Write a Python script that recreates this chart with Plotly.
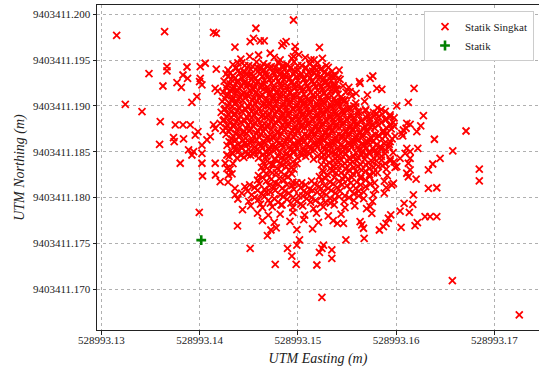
import plotly.graph_objects as go

# Reference origin of the local offsets (metres); offsets below are in millimetres.
EAST_ORIGIN = 528993.13
NORTH_ORIGIN = 9403411.17

# "Statik Singkat" fixes, (easting offset mm, northing offset mm)
singkat_outer_mm = [
    (1.56, 27.71), (6.44, 28.10), (11.42, 28.04), (11.70, 27.93), (13.60, 26.43),
    (4.85, 23.52), (6.68, 24.29), (6.68, 23.82), (8.72, 24.25), (6.27, 22.18),
    (7.70, 22.54), (8.14, 22.04), (8.31, 23.38), (8.78, 23.02), (10.07, 24.29),
    (10.58, 24.66), (10.07, 23.02), (10.24, 22.29), (10.00, 22.65), (11.70, 24.03),
    (11.59, 21.93), (11.83, 21.63), (9.73, 21.01), (9.22, 20.40), (2.44, 20.18),
    (4.14, 19.38), (6.00, 18.29), (7.53, 17.93), (8.31, 17.93), (9.05, 17.93),
    (5.93, 15.82), (7.35, 16.54), (7.42, 16.10), (8.37, 16.40), (9.56, 16.83),
    (9.83, 17.19), (8.88, 15.20), (9.22, 14.65), (9.39, 15.01), (8.03, 13.75),
    (10.24, 14.84), (10.24, 13.75), (10.30, 12.36), (11.59, 13.75), (11.62, 12.47),
    (12.10, 11.74), (10.24, 15.74), (10.75, 16.29), (11.09, 16.65), (11.59, 17.57),
    (11.42, 17.93), (12.78, 14.65), (12.61, 13.75), (12.78, 13.20), (12.95, 12.47),
    (13.63, 10.29), (9.97, 8.40), (13.86, 6.91), (13.90, 9.85), (14.37, 8.68),
    (15.15, 4.47), (17.70, 2.73), (16.91, 5.85), (17.26, 6.47), (19.83, 2.73),
    (19.39, 3.63), (18.95, 4.47), (19.90, 4.83), (20.17, 5.38), (21.94, 2.65),
    (22.45, -0.87), (22.45, 4.47), (22.20, 4.04), (22.61, 4.83), (35.73, 0.94),
    (24.89, 5.38), (26.75, 5.56), (23.46, 4.29), (23.46, 3.38), (24.03, 7.20),
    (24.64, 7.20), (26.34, 7.38), (26.68, 6.66), (26.51, 7.02), (28.30, 6.47),
    (28.71, 6.83), (28.98, 7.20), (30.51, 6.76), (31.93, 6.94), (32.17, 7.27),
    (32.95, 7.92), (33.46, 7.92), (34.14, 7.92), (30.41, 8.54), (30.82, 9.38),
    (31.70, 9.27), (31.35, 8.40), (29.46, 8.11), (29.22, 7.75), (27.36, 9.01),
    (27.53, 8.29), (42.54, -2.80), (19.56, 29.38), (18.54, 26.84), (18.81, 27.01),
    (22.20, 26.40), (19.73, 26.47), (19.56, 25.38), (31.83, 21.93), (31.25, 20.40),
    (30.07, 20.00), (32.78, 18.94), (37.12, 17.27), (33.90, 16.37), (35.77, 15.09),
    (38.47, 13.12), (38.47, 11.82), (34.48, 14.29), (33.73, 13.67), (33.29, 13.02),
    (32.11, 17.19), (32.51, 17.82), (31.09, 18.11), (30.58, 17.02), (30.74, 17.38),
    (29.39, 19.02), (26.27, 22.65), (27.36, 23.02), (28.04, 21.93), (28.55, 21.82),
    (27.08, 21.20), (25.19, 22.04), (27.63, 23.27), (26.34, 22.47), (25.32, 21.56),
    (25.93, 21.38), (24.74, 20.65), (24.13, 20.40), (23.56, 23.27), (23.80, 22.29),
    (23.80, 21.74), (15.73, 28.48), (15.49, 27.38), (15.15, 27.01), (16.17, 27.09),
    (16.58, 27.09), (18.38, 26.58), (19.73, 25.92), (16.00, 25.56), (17.19, 25.75),
    (18.20, 25.02), (18.48, 24.39), (19.39, 25.20), (20.75, 25.27), (21.33, 25.02),
    (21.66, 25.02), (21.66, 24.11), (32.04, 12.03), (33.29, 11.02), (34.14, 11.08),
    (31.76, 10.29), (31.43, 18.00), (31.02, 17.57), (30.68, 16.73), (30.41, 14.29),
    (30.07, 13.38), (31.43, 14.29), (31.25, 13.75), (31.43, 13.02), (31.09, 12.66),
    (31.25, 12.28), (32.21, 15.38), (31.09, 15.38), (31.43, 15.01), (30.92, 14.84),
    (29.39, 17.93), (29.73, 11.56), (29.56, 11.38),
    (14.2, 25.1), (15.1, 25.4), (17.6, 25.3), (20.1, 25.6), (22.5, 25.2), (13.9, 24.7),
]

singkat_core_mm = [
    # n ~ 24.6
    (13.4, 24.5), (14.3, 24.7), (15.0, 24.4), (15.8, 24.8), (16.5, 24.6), (17.3, 24.3),
    (18.0, 24.7), (18.9, 24.5), (19.6, 24.8), (20.4, 24.4), (21.2, 24.6), (22.0, 24.7),
    (22.9, 24.4),
    # n ~ 24.0
    (12.9, 23.9), (13.7, 24.1), (14.5, 23.8), (15.2, 24.0), (15.9, 24.2), (16.6, 23.9),
    (17.2, 24.1), (17.9, 23.8), (18.6, 24.0), (19.3, 24.2), (20.0, 23.9), (20.8, 24.1),
    (21.5, 23.8), (22.3, 24.0), (23.1, 24.2), (24.2, 23.9),
    # n ~ 23.4
    (12.7, 23.5), (13.4, 23.3), (14.1, 23.6), (14.8, 23.4), (15.4, 23.2), (16.1, 23.5),
    (16.8, 23.3), (17.5, 23.6), (18.2, 23.4), (18.8, 23.2), (19.5, 23.5), (20.2, 23.3),
    (20.9, 23.4), (21.6, 23.6), (22.3, 23.2), (23.0, 23.5), (23.8, 23.3),
    # n ~ 22.8
    (12.5, 22.7), (13.2, 22.9), (13.9, 22.8), (14.6, 22.6), (15.3, 22.9), (15.9, 22.7),
    (16.6, 22.8), (17.3, 23.0), (18.0, 22.7), (18.6, 22.9), (19.3, 22.6), (20.0, 22.8),
    (20.7, 23.0), (21.4, 22.7), (22.1, 22.9), (22.7, 22.6), (23.4, 22.8), (24.3, 22.9),
    # n ~ 22.2
    (12.8, 22.3), (13.5, 22.1), (14.2, 22.2), (14.9, 22.4), (15.6, 22.1), (16.3, 22.3),
    (16.9, 22.0), (17.6, 22.2), (18.3, 22.4), (19.0, 22.1), (19.7, 22.3), (20.3, 22.0),
    (21.0, 22.2), (21.7, 22.4), (22.4, 22.1), (23.1, 22.3), (23.7, 22.0), (24.6, 22.2),
    # n ~ 21.6
    (12.4, 21.5), (13.1, 21.7), (13.8, 21.6), (14.5, 21.4), (15.1, 21.7), (15.8, 21.5),
    (16.5, 21.8), (17.2, 21.6), (17.9, 21.4), (18.5, 21.7), (19.2, 21.5), (19.9, 21.6),
    (20.6, 21.8), (21.3, 21.5), (22.0, 21.7), (22.6, 21.4), (23.3, 21.6), (24.0, 21.8),
    (24.9, 21.5),
    # n ~ 21.0
    (12.7, 21.1), (13.4, 20.9), (14.1, 21.0), (14.8, 21.2), (15.5, 20.9), (16.2, 21.1),
    (16.8, 20.8), (17.5, 21.0), (18.2, 21.2), (18.9, 20.9), (19.6, 21.1), (20.3, 20.8),
    (20.9, 21.0), (21.6, 21.2), (22.3, 20.9), (23.0, 21.1), (23.7, 20.8), (24.4, 21.0),
    (25.5, 21.1),
    # n ~ 20.4
    (12.3, 20.5), (13.0, 20.3), (13.7, 20.4), (14.4, 20.6), (15.1, 20.3), (15.8, 20.5),
    (16.5, 20.2), (17.1, 20.4), (17.8, 20.6), (18.5, 20.3), (19.2, 20.5), (19.9, 20.2),
    (20.6, 20.4), (21.2, 20.6), (21.9, 20.3), (22.6, 20.5), (23.3, 20.2), (24.0, 20.4),
    (24.8, 20.6), (25.9, 20.3), (26.8, 20.5),
    # n ~ 19.8
    (12.6, 19.7), (13.3, 19.9), (14.0, 19.8), (14.7, 19.6), (15.4, 19.9), (16.1, 19.7),
    (16.8, 20.0), (17.5, 19.8), (18.1, 19.6), (18.8, 19.9), (19.5, 19.7), (20.2, 19.8),
    (20.9, 20.0), (21.6, 19.7), (22.2, 19.9), (22.9, 19.6), (23.6, 19.8), (24.3, 20.0),
    (25.1, 19.7), (25.9, 19.9), (26.9, 19.6), (28.1, 19.8),
    # n ~ 19.2
    (12.2, 19.3), (12.9, 19.1), (13.6, 19.2), (14.3, 19.4), (15.0, 19.1), (15.7, 19.3),
    (16.4, 19.0), (17.1, 19.2), (17.8, 19.4), (18.4, 19.1), (19.1, 19.3), (19.8, 19.0),
    (20.5, 19.2), (21.2, 19.4), (21.9, 19.1), (22.5, 19.3), (23.2, 19.0), (23.9, 19.2),
    (24.6, 19.4), (25.4, 19.1), (26.2, 19.3), (27.1, 19.0), (28.0, 19.2), (28.9, 19.4),
    # n ~ 18.6
    (12.5, 18.5), (13.2, 18.7), (13.9, 18.6), (14.6, 18.4), (15.3, 18.7), (16.0, 18.5),
    (16.7, 18.8), (17.4, 18.6), (18.1, 18.4), (18.7, 18.7), (19.4, 18.5), (20.1, 18.6),
    (20.8, 18.8), (21.5, 18.5), (22.2, 18.7), (22.9, 18.4), (23.6, 18.6), (24.3, 18.8),
    (25.0, 18.5), (25.7, 18.7), (26.5, 18.4), (27.3, 18.6), (28.2, 18.8), (29.0, 18.5),
    (29.8, 18.7),
    # n ~ 18.0
    (12.1, 18.1), (12.8, 17.9), (13.5, 18.0), (14.2, 18.2), (14.9, 17.9), (15.6, 18.1),
    (16.3, 17.8), (17.0, 18.0), (17.7, 18.2), (18.4, 17.9), (19.0, 18.1), (19.7, 17.8),
    (20.4, 18.0), (21.1, 18.2), (21.8, 17.9), (22.5, 18.1), (23.2, 17.8), (23.9, 18.0),
    (24.6, 18.2), (25.3, 17.9), (26.0, 18.1), (26.8, 17.8), (27.6, 18.0), (28.5, 18.2),
    (29.4, 17.9),
    # n ~ 17.4
    (12.4, 17.3), (13.1, 17.5), (13.8, 17.4), (14.5, 17.2), (15.2, 17.5), (15.9, 17.3),
    (16.6, 17.6), (17.3, 17.4), (18.0, 17.2), (18.7, 17.5), (19.4, 17.3), (20.0, 17.4),
    (20.7, 17.6), (21.4, 17.3), (22.1, 17.5), (22.8, 17.2), (23.5, 17.4), (24.2, 17.6),
    (24.9, 17.3), (25.6, 17.5), (26.3, 17.2), (27.0, 17.4), (27.8, 17.6), (28.7, 17.3),
    (29.5, 17.5),
    # n ~ 16.8
    (12.7, 16.9), (13.4, 16.7), (14.1, 16.8), (14.8, 17.0), (15.5, 16.7), (16.2, 16.9),
    (16.9, 16.6), (17.6, 16.8), (18.3, 17.0), (19.0, 16.7), (19.7, 16.9), (20.4, 16.6),
    (21.0, 16.8), (21.7, 17.0), (22.4, 16.7), (23.1, 16.9), (23.8, 16.6), (24.5, 16.8),
    (25.2, 17.0), (25.9, 16.7), (26.6, 16.9), (27.4, 16.6), (28.2, 16.8), (29.1, 17.0),
    (29.9, 16.7),
    # n ~ 16.2
    (13.0, 16.1), (13.7, 16.3), (14.4, 16.2), (15.1, 16.0), (15.8, 16.3), (16.5, 16.1),
    (17.2, 16.4), (17.9, 16.2), (18.6, 16.0), (19.3, 16.3), (20.0, 16.1), (20.7, 16.2),
    (21.4, 16.4), (22.0, 16.1), (22.7, 16.3), (23.4, 16.0), (24.1, 16.2), (24.8, 16.4),
    (25.5, 16.1), (26.2, 16.3), (26.9, 16.0), (27.7, 16.2), (28.6, 16.4), (29.4, 16.1),
    # n ~ 15.6
    (12.8, 15.7), (13.5, 15.5), (14.2, 15.6), (14.9, 15.8), (15.6, 15.5), (16.3, 15.7),
    (17.0, 15.4), (17.7, 15.6), (18.4, 15.8), (19.1, 15.5), (19.8, 15.7), (20.5, 15.4),
    (21.2, 15.6), (21.9, 15.8), (22.6, 15.5), (23.3, 15.7), (24.0, 15.4), (24.7, 15.6),
    (25.4, 15.8), (26.1, 15.5), (26.8, 15.7), (27.6, 15.4), (28.4, 15.6), (29.3, 15.8),
    # n ~ 15.0
    (13.3, 14.9), (14.0, 15.1), (14.7, 15.0), (15.4, 14.8), (16.1, 15.1), (16.8, 14.9),
    (17.5, 15.2), (18.2, 15.0), (18.9, 14.8), (19.6, 15.1), (20.3, 14.9), (21.0, 15.0),
    (21.7, 15.2), (22.4, 14.9), (23.1, 15.1), (23.8, 14.8), (24.5, 15.0), (25.2, 15.2),
    (25.9, 14.9), (26.6, 15.1), (27.3, 14.8), (28.1, 15.0), (28.9, 15.2), (29.7, 14.9),
    # n ~ 14.4
    (13.0, 14.5), (13.8, 14.3), (14.5, 14.4), (15.2, 14.6), (16.0, 14.3), (16.8, 14.5),
    (17.6, 14.2), (18.4, 14.4), (19.2, 14.6), (20.0, 14.3), (20.8, 14.5), (21.6, 14.2),
    (22.4, 14.4), (23.1, 14.6), (23.8, 14.3), (24.6, 14.5), (25.3, 14.2), (26.1, 14.4),
    (26.9, 14.6), (27.7, 14.3), (28.5, 14.5), (29.4, 14.2),
    # n ~ 13.8
    (13.4, 13.7), (16.5, 13.9), (17.3, 13.6), (18.2, 13.8), (19.0, 14.0), (19.9, 13.7),
    (22.4, 13.6), (23.2, 13.8), (24.0, 14.0), (24.8, 13.7), (25.6, 13.9), (26.4, 13.6),
    (27.2, 13.8), (28.0, 14.0), (28.9, 13.7), (29.8, 13.9),
    # n ~ 13.2
    (13.1, 13.1), (16.3, 13.3), (17.1, 13.0), (17.9, 13.2), (18.8, 13.4), (19.6, 13.1),
    (22.5, 13.0), (23.3, 13.2), (24.1, 13.4), (24.9, 13.1), (25.7, 13.3), (26.5, 13.0),
    (27.3, 13.2), (28.2, 13.4), (29.0, 13.1), (29.9, 13.3),
    # n ~ 12.5
    (13.3, 12.6), (16.0, 12.4), (16.9, 12.5), (17.8, 12.7), (18.7, 12.4), (19.4, 12.6),
    (22.2, 12.3), (23.0, 12.5), (23.9, 12.7), (24.8, 12.4), (25.6, 12.6), (26.4, 12.3),
    (27.3, 12.5), (28.1, 12.7), (29.1, 12.4),
    # n ~ 11.8
    (12.9, 11.7), (15.9, 11.9), (16.8, 11.8), (17.7, 11.6), (18.6, 11.9), (19.5, 11.7),
    (20.4, 11.6), (21.4, 11.8), (22.4, 11.9), (23.3, 11.7), (24.2, 11.8), (25.1, 12.0),
    (26.0, 11.7), (26.9, 11.9), (27.8, 11.6), (28.8, 11.8),
    # n ~ 11.1
    (13.6, 11.0), (14.6, 11.2), (15.6, 11.1), (16.6, 10.9), (17.5, 11.2), (18.4, 11.0),
    (19.4, 11.3), (20.3, 11.1), (21.2, 10.9), (22.2, 11.2), (23.1, 11.0), (24.0, 11.1),
    (25.0, 11.3), (25.9, 11.0), (26.9, 11.2), (27.9, 10.9), (29.0, 11.1),
    # n ~ 10.4
    (14.3, 10.5), (15.3, 10.3), (16.3, 10.4), (17.2, 10.6), (18.2, 10.3), (19.1, 10.5),
    (20.1, 10.2), (21.0, 10.4), (22.0, 10.6), (22.9, 10.3), (23.8, 10.5), (24.8, 10.2),
    (25.7, 10.4), (26.7, 10.6), (27.7, 10.3), (28.8, 10.5),
    # n ~ 9.7
    (15.0, 9.6), (16.0, 9.8), (17.0, 9.7), (18.0, 9.5), (18.9, 9.8), (19.9, 9.6),
    (20.9, 9.9), (21.8, 9.7), (22.8, 9.5), (23.7, 9.8), (24.7, 9.6), (25.7, 9.7),
    (26.7, 9.9), (27.6, 9.6),
    # n ~ 9.0
    (15.2, 9.1), (16.4, 8.9), (17.4, 9.0), (18.4, 9.2), (19.5, 8.9), (20.5, 9.1),
    (21.6, 8.8), (22.6, 9.0), (23.7, 9.2), (24.8, 8.9), (25.8, 9.1), (27.0, 8.8),
    # n ~ 8.2
    (15.9, 8.3), (17.0, 8.1), (18.2, 8.2), (19.5, 8.4), (20.7, 8.1), (21.9, 8.3),
    (23.1, 8.0), (24.4, 8.2),
    # n ~ 7.4
    (16.4, 7.5), (17.6, 7.3), (19.2, 7.4), (20.6, 7.6), (22.1, 7.3), (23.6, 7.5),
    # n ~ 6.6
    (17.8, 6.7), (19.9, 6.5), (21.5, 6.6),
]

# Fixes lying between the rows above in the densest part of the cloud
singkat_dense_mm = [
    # n ~ 24.3
    (13.7, 24.2), (14.6, 24.4), (15.4, 24.3), (16.2, 24.1), (16.9, 24.4), (17.7, 24.2),
    (18.5, 24.3), (19.2, 24.1), (20.0, 24.4), (20.8, 24.2), (21.6, 24.3), (22.4, 24.1),
    # n ~ 23.7
    (13.1, 23.6), (13.9, 23.8), (14.6, 23.7), (15.3, 23.5), (16.0, 23.8), (16.7, 23.6),
    (17.5, 23.7), (18.2, 23.9), (18.9, 23.6), (19.7, 23.8), (20.4, 23.5), (21.1, 23.7),
    (21.9, 23.9), (22.7, 23.6), (23.5, 23.8),
    # n ~ 23.1
    (12.9, 23.2), (13.6, 23.0), (14.3, 23.1), (15.0, 23.3), (15.7, 23.0), (16.4, 23.2),
    (17.1, 22.9), (17.8, 23.1), (18.5, 23.3), (19.2, 23.0), (19.9, 23.2), (20.6, 22.9),
    (21.3, 23.1), (22.0, 23.3), (22.7, 23.0), (23.4, 23.2), (24.1, 23.0),
    # n ~ 22.5
    (13.1, 22.4), (13.8, 22.6), (14.5, 22.5), (15.2, 22.3), (15.9, 22.6), (16.6, 22.4),
    (17.3, 22.5), (18.0, 22.7), (18.7, 22.4), (19.4, 22.6), (20.1, 22.3), (20.8, 22.5),
    (21.5, 22.7), (22.2, 22.4), (22.9, 22.6), (23.6, 22.3),
    # n ~ 21.9
    (12.7, 22.0), (13.4, 21.8), (14.1, 21.9), (14.8, 22.1), (15.5, 21.8), (16.2, 22.0),
    (16.9, 21.7), (17.6, 21.9), (18.3, 22.1), (19.0, 21.8), (19.7, 22.0), (20.4, 21.7),
    (21.1, 21.9), (21.8, 22.1), (22.5, 21.8), (23.2, 22.0), (23.9, 21.9),
    # n ~ 21.3
    (12.9, 21.2), (13.6, 21.4), (14.3, 21.3), (15.0, 21.1), (15.7, 21.4), (16.4, 21.2),
    (17.1, 21.3), (17.8, 21.5), (18.5, 21.2), (19.2, 21.4), (19.9, 21.1), (20.6, 21.3),
    (21.3, 21.5), (22.0, 21.2), (22.7, 21.4), (23.4, 21.1), (24.1, 21.3),
    # n ~ 20.7
    (12.6, 20.8), (13.3, 20.6), (14.0, 20.7), (14.7, 20.9), (15.4, 20.6), (16.1, 20.8),
    (16.8, 20.5), (17.5, 20.7), (18.2, 20.9), (18.9, 20.6), (19.6, 20.8), (20.3, 20.5),
    (21.0, 20.7), (21.7, 20.9), (22.4, 20.6), (23.1, 20.8), (23.8, 20.5), (24.5, 20.7),
    # n ~ 20.1
    (12.9, 20.0), (13.6, 20.2), (14.3, 20.1), (15.0, 19.9), (15.7, 20.2), (16.4, 20.0),
    (17.1, 20.1), (17.8, 20.3), (18.5, 20.0), (19.2, 20.2), (19.9, 19.9), (20.6, 20.1),
    (21.3, 20.3), (22.0, 20.0), (22.7, 20.2), (23.4, 19.9), (24.1, 20.1), (24.9, 20.3),
    (25.7, 20.0),
    # n ~ 19.5
    (12.5, 19.6), (13.2, 19.4), (13.9, 19.5), (14.6, 19.7), (15.3, 19.4), (16.0, 19.6),
    (16.7, 19.3), (17.4, 19.5), (18.1, 19.7), (18.8, 19.4), (19.5, 19.6), (20.2, 19.3),
    (20.9, 19.5), (21.6, 19.7), (22.3, 19.4), (23.0, 19.6), (23.7, 19.3), (24.5, 19.5),
    (25.3, 19.7), (26.1, 19.4), (26.9, 19.5), (27.7, 19.3), (28.5, 19.6),
    # n ~ 18.9
    (12.8, 18.8), (13.5, 19.0), (14.2, 18.9), (14.9, 18.7), (15.6, 19.0), (16.3, 18.8),
    (17.0, 18.9), (17.7, 19.1), (18.4, 18.8), (19.1, 19.0), (19.8, 18.7), (20.5, 18.9),
    (21.2, 19.1), (21.9, 18.8), (22.6, 19.0), (23.3, 18.7), (24.0, 18.9), (24.7, 19.1),
    (25.4, 18.8), (26.2, 19.0), (27.0, 18.7), (27.8, 18.9), (28.6, 19.1), (29.4, 18.8),
    # n ~ 18.3
    (12.4, 18.4), (13.1, 18.2), (13.8, 18.3), (14.5, 18.5), (15.2, 18.2), (15.9, 18.4),
    (16.6, 18.1), (17.3, 18.3), (18.0, 18.5), (18.7, 18.2), (19.4, 18.4), (20.1, 18.1),
    (20.8, 18.3), (21.5, 18.5), (22.2, 18.2), (22.9, 18.4), (23.6, 18.1), (24.3, 18.3),
    (25.0, 18.5), (25.7, 18.2), (26.5, 18.4), (27.3, 18.1), (28.1, 18.3), (28.9, 18.5),
    (29.7, 18.2),
    # n ~ 17.7
    (12.7, 17.6), (13.4, 17.8), (14.1, 17.7), (14.8, 17.5), (15.5, 17.8), (16.2, 17.6),
    (16.9, 17.7), (17.6, 17.9), (18.3, 17.6), (19.0, 17.8), (19.7, 17.5), (20.4, 17.7),
    (21.1, 17.9), (21.8, 17.6), (22.5, 17.8), (23.2, 17.5), (23.9, 17.7), (24.6, 17.9),
    (25.3, 17.6), (26.0, 17.8), (26.7, 17.5), (27.4, 17.7), (28.2, 17.9), (29.0, 17.6),
    (29.8, 17.8),
    # n ~ 17.1
    (13.0, 17.2), (13.7, 17.0), (14.4, 17.1), (15.1, 17.3), (15.8, 17.0), (16.5, 17.2),
    (17.2, 16.9), (17.9, 17.1), (18.6, 17.3), (19.3, 17.0), (20.0, 17.2), (20.7, 16.9),
    (21.4, 17.1), (22.1, 17.3), (22.8, 17.0), (23.5, 17.2), (24.2, 16.9), (24.9, 17.1),
    (25.6, 17.3), (26.3, 17.0), (27.1, 17.2), (27.9, 16.9), (28.7, 17.1),
    # n ~ 16.5
    (13.3, 16.4), (14.0, 16.6), (14.7, 16.5), (15.4, 16.3), (16.1, 16.6), (16.8, 16.4),
    (17.5, 16.5), (18.2, 16.7), (18.9, 16.4), (19.6, 16.6), (20.3, 16.3), (21.0, 16.5),
    (21.7, 16.7), (22.4, 16.4), (23.1, 16.6), (23.8, 16.3), (24.5, 16.5), (25.2, 16.7),
    (25.9, 16.4), (26.6, 16.6), (27.3, 16.3), (28.0, 16.5), (28.9, 16.7), (29.6, 16.4),
    # n ~ 15.9
    (13.2, 16.0), (13.9, 15.8), (14.6, 15.9), (15.3, 16.1), (16.0, 15.8), (16.7, 16.0),
    (17.4, 15.7), (18.1, 15.9), (18.8, 16.1), (19.5, 15.8), (20.2, 16.0), (20.9, 15.7),
    (21.6, 15.9), (22.3, 16.1), (23.0, 15.8), (23.7, 16.0), (24.4, 15.7), (25.1, 15.9),
    (25.8, 16.1), (26.5, 15.8), (27.2, 16.0), (28.0, 15.7), (28.8, 15.9),
    # n ~ 15.3
    (13.6, 15.2), (14.3, 15.4), (15.0, 15.3), (15.7, 15.1), (16.4, 15.4), (17.1, 15.2),
    (17.8, 15.3), (18.5, 15.5), (19.2, 15.2), (19.9, 15.4), (20.6, 15.1), (21.3, 15.3),
    (22.0, 15.5), (22.7, 15.2), (23.4, 15.4), (24.1, 15.1), (24.8, 15.3), (25.5, 15.5),
    (26.2, 15.2), (27.0, 15.4), (27.8, 15.1), (28.5, 15.3), (29.3, 15.5),
    # n ~ 14.7
    (13.4, 14.8), (14.2, 14.6), (14.9, 14.7), (15.6, 14.9), (16.4, 14.6), (17.2, 14.8),
    (18.0, 14.5), (18.8, 14.7), (19.6, 14.9), (20.4, 14.6), (21.2, 14.8), (22.0, 14.5),
    (22.7, 14.7), (23.5, 14.9), (24.2, 14.6), (24.9, 14.8), (25.7, 14.5), (26.5, 14.7),
    (27.3, 14.9), (28.1, 14.6), (28.9, 14.8),
    # n ~ 14.1
    (16.9, 14.0), (17.7, 14.2), (18.6, 14.1), (19.5, 13.9), (22.8, 14.2), (23.6, 14.0),
    (24.4, 14.1), (25.2, 14.3), (26.0, 14.0), (26.8, 14.2), (27.6, 13.9), (28.5, 14.1),
    (29.4, 14.0),
    # n ~ 13.5
    (16.7, 13.4), (17.5, 13.6), (18.4, 13.5), (19.3, 13.3), (22.9, 13.6), (23.7, 13.4),
    (24.5, 13.5), (25.3, 13.7), (26.1, 13.4), (26.9, 13.6), (27.7, 13.3), (28.6, 13.5),
    # n ~ 12.85
    (16.5, 12.9), (17.4, 12.7), (18.3, 12.8), (19.1, 13.0), (22.6, 12.8), (23.5, 12.9),
    (24.4, 12.7), (25.2, 13.0), (26.0, 12.8), (26.9, 12.9), (27.7, 12.7),
    # n ~ 12.15
    (16.4, 12.2), (17.3, 12.0), (18.1, 12.1), (19.0, 12.3), (22.8, 12.1), (23.7, 12.2),
    (24.6, 12.0), (25.5, 12.2), (26.4, 12.1), (27.3, 12.3),
    # n ~ 11.45
    (15.1, 11.4), (16.1, 11.5), (17.1, 11.3), (18.0, 11.5), (18.9, 11.4), (19.9, 11.6),
    (20.8, 11.4), (21.7, 11.5), (22.7, 11.3), (23.6, 11.5), (24.5, 11.4), (25.4, 11.6),
    (26.4, 11.4), (27.4, 11.5),
    # n ~ 10.75
    (14.9, 10.7), (15.9, 10.8), (16.8, 10.6), (17.7, 10.8), (18.7, 10.7), (19.6, 10.9),
    (20.6, 10.7), (21.5, 10.8), (22.5, 10.6), (23.4, 10.8), (24.3, 10.7), (25.3, 10.9),
    (26.2, 10.7),
    # n ~ 10.05
    (15.6, 10.0), (16.6, 10.1), (17.6, 9.9), (18.5, 10.1), (19.5, 10.0), (20.5, 10.2),
    (21.4, 10.0), (22.4, 10.1), (23.3, 9.9), (24.2, 10.1), (25.2, 10.0), (26.2, 10.2),
    # n ~ 9.35
    (16.2, 9.3), (17.2, 9.4), (18.3, 9.2), (19.3, 9.4), (20.3, 9.3), (21.3, 9.5),
    (22.3, 9.3), (23.3, 9.4),
]

# Single "Statik" fix
statik_mm = [(10.17, 5.36)]

x_tick_vals = [528993.13, 528993.14, 528993.15, 528993.16, 528993.17]
x_tick_text = ["528993.13", "528993.14", "528993.15", "528993.16", "528993.17"]
y_tick_vals = [9403411.170, 9403411.175, 9403411.180, 9403411.185,
               9403411.190, 9403411.195, 9403411.200]
y_tick_text = ["9403411.170", "9403411.175", "9403411.180", "9403411.185",
               "9403411.190", "9403411.195", "9403411.200"]


def to_utm(points_mm):
    east = [EAST_ORIGIN + e / 1000.0 for e, _ in points_mm]
    north = [NORTH_ORIGIN + n / 1000.0 for _, n in points_mm]
    return east, north


singkat_e, singkat_n = to_utm(singkat_outer_mm + singkat_core_mm + singkat_dense_mm)
statik_e, statik_n = to_utm(statik_mm)

SERIF = "Liberation Serif"
INK = "#222222"

fig = go.Figure()
fig.add_trace(go.Scatter(
    x=singkat_e, y=singkat_n, mode="markers", name="Statik Singkat",
    marker=dict(symbol="x-thin", size=7, color="#ff0000",
                line=dict(width=1.8, color="#ff0000")),
))
fig.add_trace(go.Scatter(
    x=statik_e, y=statik_n, mode="markers", name="Statik",
    marker=dict(symbol="cross-thin", size=7, color="#008000",
                line=dict(width=2.6, color="#008000")),
))

axis_common = dict(
    showgrid=True, gridcolor="#b0b0b0", gridwidth=0.8, griddash="dot",
    showline=True, linecolor=INK, linewidth=1,
    ticks="outside", ticklen=3.5, tickcolor=INK, tickwidth=1,
    zeroline=False,
    tickfont=dict(family=SERIF, size=11, color=INK),
)

fig.update_layout(
    width=539, height=370,
    margin=dict(l=97, r=0, t=5, b=40),
    paper_bgcolor="white", plot_bgcolor="white",
    font=dict(family=SERIF, color=INK),
    xaxis=dict(
        axis_common, mirror=True,
        range=[528993.12956, 528993.174547],
        tickmode="array", tickvals=x_tick_vals, ticktext=x_tick_text,
        ticklabelstandoff=-4,
        title=dict(text="UTM Easting (m)", standoff=8,
                   font=dict(family=SERIF, size=14, style="italic", color=INK)),
    ),
    yaxis=dict(
        axis_common, mirror=False,
        range=[9403411.16556, 9403411.201015],
        tickmode="array", tickvals=y_tick_vals, ticktext=y_tick_text,
        title=dict(text="UTM Northing (m)", standoff=5,
                   font=dict(family=SERIF, size=14, style="italic", color=INK)),
    ),
    legend=dict(
        x=0.9887, y=0.9815, xanchor="right", yanchor="top",
        bgcolor="white", bordercolor="#cccccc", borderwidth=1,
        font=dict(family=SERIF, size=11, color=INK),
        tracegroupgap=0,
    ),
    showlegend=True,
)

fig.write_html("out.html")
